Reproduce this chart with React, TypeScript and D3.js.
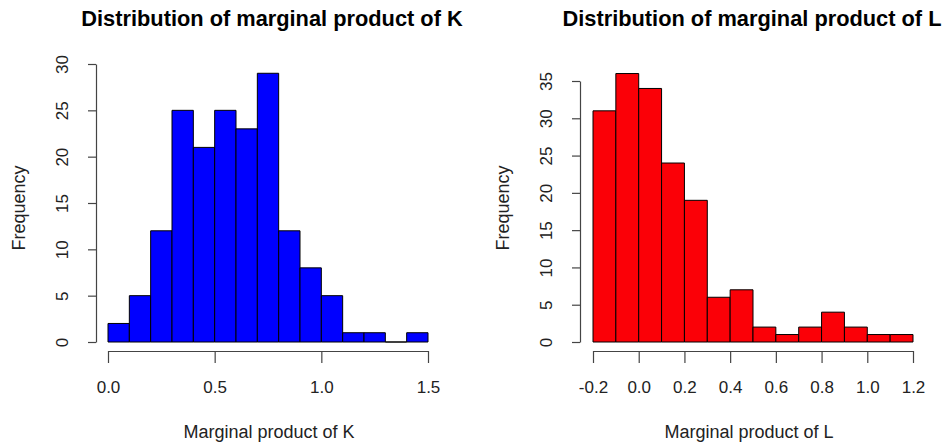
import React, { useEffect, useRef } from "react";
import * as d3 from "d3";

// histogram of marginal product of K
const kEdges = [0, 0.1, 0.2, 0.3, 0.4, 0.5, 0.6, 0.7, 0.8, 0.9, 1.0, 1.1, 1.2, 1.3, 1.4, 1.5];
const kCounts = [2, 5, 12, 25, 21, 25, 23, 29, 12, 8, 5, 1, 1, 0, 1];
const kXTicks = [0, 0.5, 1.0, 1.5];
const kYTicks = [0, 5, 10, 15, 20, 25, 30];

// histogram of marginal product of L
const lEdges = [-0.2, -0.1, 0, 0.1, 0.2, 0.3, 0.4, 0.5, 0.6, 0.7, 0.8, 0.9, 1.0, 1.1, 1.2];
const lCounts = [31, 36, 34, 24, 19, 6, 7, 2, 1, 2, 4, 2, 1, 1];
const lXTicks = [-0.2, 0, 0.2, 0.4, 0.6, 0.8, 1.0, 1.2];
const lYTicks = [0, 5, 10, 15, 20, 25, 30, 35];

const FONT = "'Liberation Sans', Arial, Helvetica, sans-serif";
const AXIS = "#444";

type Panel = {
  title: string;
  xlab: string;
  edges: number[];
  counts: number[];
  xTicks: number[];
  yTicks: number[];
  fill: string;
  xRange: [number, number];
  yTop: number;
  yAxisX: number;
  center: number;
};

const panels: Panel[] = [
  {
    title: "Distribution of marginal product of K",
    xlab: "Marginal product of K",
    edges: kEdges,
    counts: kCounts,
    xTicks: kXTicks,
    yTicks: kYTicks,
    fill: "#0000ff",
    xRange: [108, 428],
    yTop: 64,
    yAxisX: 96,
    center: 272,
  },
  {
    title: "Distribution of marginal product of L",
    xlab: "Marginal product of L",
    edges: lEdges,
    counts: lCounts,
    xTicks: lXTicks,
    yTicks: lYTicks,
    fill: "#fb0007",
    xRange: [593, 913],
    yTop: 81,
    yAxisX: 580,
    center: 752,
  },
];

const App = () => {
  const ref = useRef<SVGSVGElement>(null);

  useEffect(() => {
    const svg = d3.select(ref.current);
    svg.selectAll("*").remove();
    const yBase = 342;
    const xAxisY = 351;

    panels.forEach((p) => {
      const g = svg.append("g");
      const x = d3
        .scaleLinear()
        .domain([p.edges[0], p.edges[p.edges.length - 1]])
        .range(p.xRange);
      const y = d3
        .scaleLinear()
        .domain([0, p.yTicks[p.yTicks.length - 1]])
        .range([yBase, p.yTop]);

      // bars (paths so empty bins still show as a flat line)
      g.selectAll("path.bar")
        .data(p.counts)
        .enter()
        .append("path")
        .attr("class", "bar")
        .attr("d", (d, i) => {
          const x0 = x(p.edges[i]);
          const x1 = x(p.edges[i + 1]);
          return `M${x0},${yBase}V${y(d)}H${x1}V${yBase}Z`;
        })
        .attr("fill", p.fill)
        .attr("stroke", "#000")
        .attr("stroke-width", 1);

      // x axis
      const xa = g
        .append("g")
        .attr("transform", `translate(0,${xAxisY})`)
        .call(
          d3
            .axisBottom(x)
            .tickValues(p.xTicks)
            .tickSize(12)
            .tickSizeOuter(0)
            .tickFormat(d3.format(".1f"))
        );
      xa.select(".domain").attr("stroke", AXIS).attr("stroke-width", 1.2);
      xa.selectAll(".tick line").attr("stroke", AXIS).attr("stroke-width", 1.2);
      xa.selectAll(".tick text")
        .attr("font-family", FONT)
        .attr("font-size", 17)
        .attr("fill", "#222")
        .attr("y", 42)
        .attr("dy", null)
        .text((d: any) => d3.format(".1f")(d).replace("−", "-"));

      // y axis
      const ya = g
        .append("g")
        .attr("transform", `translate(${p.yAxisX},0)`)
        .call(
          d3
            .axisLeft(y)
            .tickValues(p.yTicks)
            .tickSize(8)
            .tickSizeOuter(0)
            .tickPadding(0)
        );
      ya.select(".domain").attr("stroke", AXIS).attr("stroke-width", 1.2);
      ya.selectAll(".tick line").attr("stroke", AXIS).attr("stroke-width", 1.2);
      ya.selectAll(".tick text")
        .attr("font-family", FONT)
        .attr("font-size", 17)
        .attr("fill", "#222")
        .attr("x", null)
        .attr("dy", null)
        .attr("text-anchor", "middle")
        .attr("transform", "translate(-28,0) rotate(-90)");

      // title
      g.append("text")
        .attr("x", p.center)
        .attr("y", 26)
        .attr("text-anchor", "middle")
        .attr("font-family", FONT)
        .attr("font-weight", "bold")
        .attr("font-size", 21.8)
        .attr("fill", "#000")
        .text(p.title);

      // x label
      g.append("text")
        .attr("x", p.center - 3)
        .attr("y", 438)
        .attr("text-anchor", "middle")
        .attr("font-family", FONT)
        .attr("font-size", 18)
        .attr("fill", "#222")
        .text(p.xlab);

      // y label
      g.append("text")
        .attr("transform", `translate(${p.yAxisX - 71},208) rotate(-90)`)
        .attr("text-anchor", "middle")
        .attr("font-family", FONT)
        .attr("font-size", 18)
        .attr("fill", "#222")
        .text("Frequency");
    });
  }, []);

  return (
    <div style={{ position: "absolute", left: 0, top: 0 }}>
      <svg ref={ref} width={951} height={447} style={{ display: "block", background: "#fff" }}></svg>
    </div>
  );
};

export default App;
